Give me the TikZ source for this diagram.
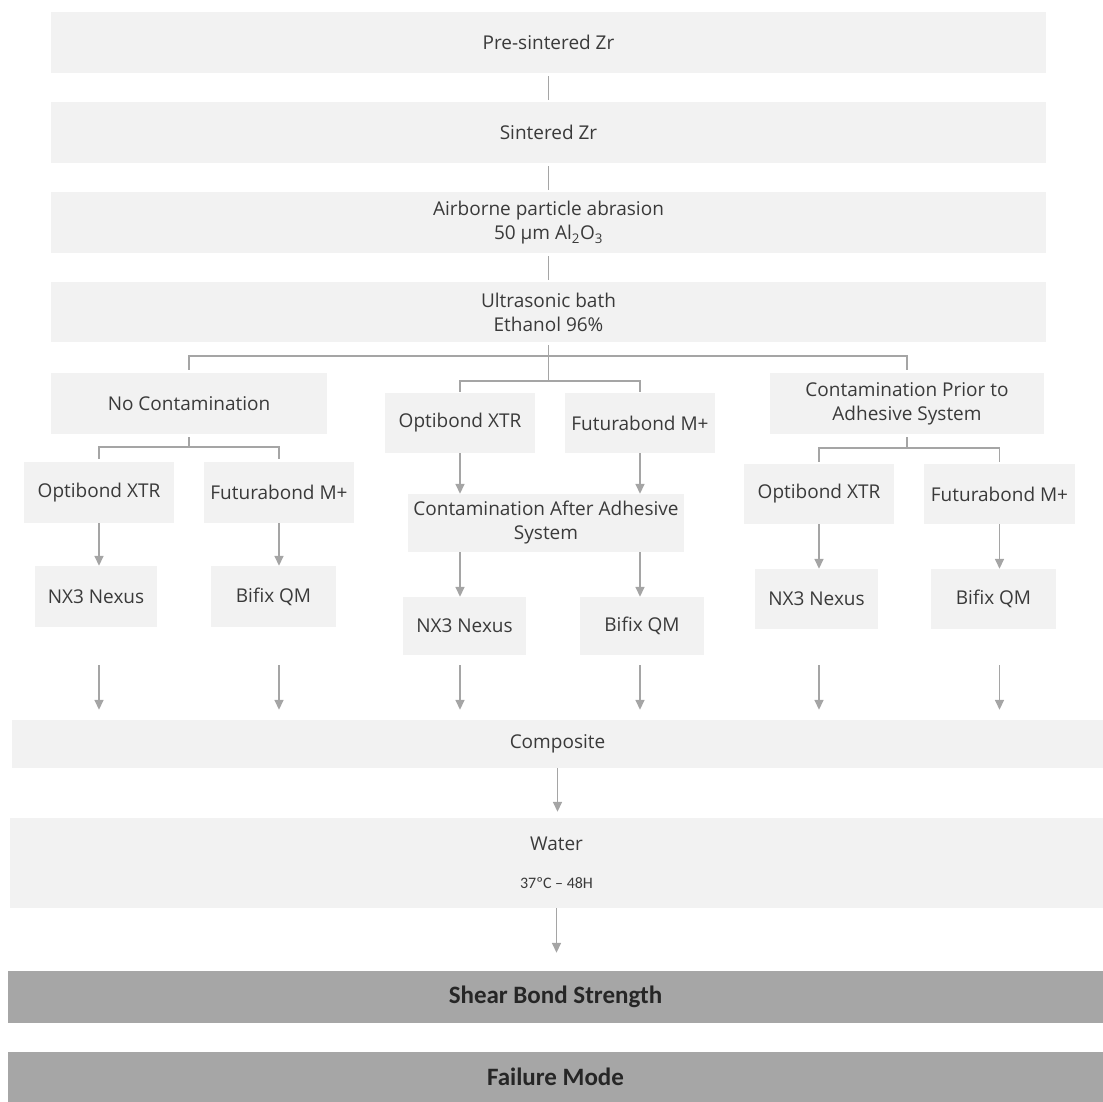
\documentclass[tikz,border=0pt]{standalone}
\usepackage{fontspec}
\setmainfont{Open Sans}
\newfontfamily\calibri{Carlito}
\usetikzlibrary{arrows.meta}
\definecolor{boxgray}{HTML}{F2F2F2}
\definecolor{darkbox}{HTML}{A6A6A6}
\definecolor{linegray}{HTML}{A5A5A5}
\definecolor{txtgray}{HTML}{3A3A3A}

\begin{document}
\begin{tikzpicture}[x=1pt,y=-1pt,
  every node/.style={font=\fontsize{19}{24}\selectfont,text=txtgray},
  stepbox/.style={fill=boxgray,inner sep=0pt,align=center},
  endbox/.style={fill=darkbox,inner sep=0pt,text=black!85,
    font=\calibri\bfseries\fontsize{25}{30}\selectfont},
  link/.style={draw=linegray,line width=1.6pt},
  arr/.style={link,-{Triangle[length=10pt,width=9pt]}}]
  \useasboundingbox (0,0) rectangle (1103,1102);
  \node[stepbox,minimum width=995pt,minimum height=61pt] (pre) at (548.5,42.5) {Pre-sintered Zr};
  \node[stepbox,minimum width=995pt,minimum height=61pt] (sint) at (548.5,132.5) {Sintered Zr};
  \node[stepbox,minimum width=995pt,minimum height=61pt] (air) at (548.5,222.5)
    {Airborne particle abrasion\\50 µm Al\textsubscript{2}O\textsubscript{3}};
  \node[stepbox,minimum width=995pt,minimum height=60pt] (ultra) at (548.5,312) {Ultrasonic bath\\Ethanol 96\%};
  \node[stepbox,minimum width=276pt,minimum height=61pt] (noC) at (189,403.5) {No Contamination};
  \node[stepbox,minimum width=274pt,minimum height=61pt] (prior) at (907,403.5)
    {Contamination Prior to\\Adhesive System};
  \node[stepbox,minimum width=150pt,minimum height=60pt] (optM) at (460,423) {Optibond XTR};
  \node[stepbox,minimum width=150pt,minimum height=60pt] (futM) at (640,423) {Futurabond M+};
  \node[stepbox,minimum width=276pt,minimum height=58pt] (after) at (546,523)
    {Contamination After Adhesive\\System};
  \node[stepbox,minimum width=123pt,minimum height=58pt] (nexM) at (464.5,626) {NX3 Nexus};
  \node[stepbox,minimum width=124pt,minimum height=58pt] (bifM) at (642,626) {Bifix QM};
  \node[stepbox,minimum width=150pt,minimum height=61pt] (optA) at (99,492.5) {Optibond XTR};
  \node[stepbox,minimum width=150pt,minimum height=61pt] (futA) at (279,492.5) {Futurabond M+};
  \node[stepbox,minimum width=122pt,minimum height=61pt] (nexA) at (96,596.5) {NX3 Nexus};
  \node[stepbox,minimum width=125pt,minimum height=61pt] (bifA) at (273.5,596.5) {Bifix QM};
  \node[stepbox,minimum width=150pt,minimum height=60pt] (optC) at (819,494) {Optibond XTR};
  \node[stepbox,minimum width=151pt,minimum height=60pt] (futC) at (999.5,494) {Futurabond M+};
  \node[stepbox,minimum width=123pt,minimum height=60pt] (nexC) at (816.5,599) {NX3 Nexus};
  \node[stepbox,minimum width=125pt,minimum height=60pt] (bifC) at (993.5,599) {Bifix QM};
  \node[stepbox,minimum width=1091pt,minimum height=48pt] (comp) at (557.5,744) {Composite};
  \node[stepbox,minimum width=1093pt,minimum height=90pt] (water) at (556.5,863)
    {Water\\[14pt]{\calibri\fontsize{16}{18}\selectfont 37ºC – 48H}};
  \node[endbox,minimum width=1095pt,minimum height=52pt] (shear) at (555.5,997) {Shear Bond Strength};
  \node[endbox,minimum width=1095pt,minimum height=50pt] (fail) at (555.5,1077) {Failure Mode};
  \coordinate (splitA) at (548.5,356);
  \coordinate (splitB) at (548.5,381);
  \coordinate (splitC) at (189,447);
  \coordinate (splitD) at (907,448);
  \draw[link,shorten <=3pt,shorten >=2pt] (pre) -- (sint);
  \draw[link,shorten <=3pt,shorten >=2pt] (sint) -- (air);
  \draw[link,shorten <=3pt,shorten >=2pt] (air) -- (ultra);
  \draw[link,shorten <=3pt] (ultra.south) -- (splitB);
  \draw[link,shorten <=3pt,shorten >=3pt] (noC.north) |- (splitA) -| (prior.north);
  \draw[link,shorten <=1pt,shorten >=1pt] (optM.north) |- (splitB) -| (futM.north);
  \draw[link,shorten <=3pt] (noC.south) -- (splitC);
  \draw[link,shorten <=3pt,shorten >=3pt] (optA.north) |- (splitC) -| (futA.north);
  \draw[link,shorten <=3pt] (prior.south) -- (splitD);
  \draw[link,shorten <=2pt,shorten >=2pt] (optC.north) |- (splitD) -| (futC.north);
  \foreach \a/\b in {optA/nexA,futA/bifA,optC/nexC,futC/bifC}
    \draw[arr] (\a.south) -- (\a.south |- \b.north);
  \draw[arr] (optM.south) -- (optM.south |- after.north);
  \draw[arr] (futM.south) -- (futM.south |- after.north);
  \draw[arr] (optM.south |- after.south) -- (optM.south |- nexM.north);
  \draw[arr] (futM.south |- after.south) -- (futM.south |- bifM.north);
  \foreach \c/\n/\s in {optA/nexA/38,futA/bifA/38,optM/nexM/10,futM/bifM/10,optC/nexC/36,futC/bifC/36}
    \draw[arr,shorten <=\s pt,shorten >=10pt] (\c |- \n.south) -- (\c |- comp.north);
  \draw[arr,shorten >=6pt] (comp.south) -- (comp.south |- water.north);
  \draw[arr,shorten >=18pt] (water.south) -- (water.south |- shear.north);
\end{tikzpicture}
\end{document}
